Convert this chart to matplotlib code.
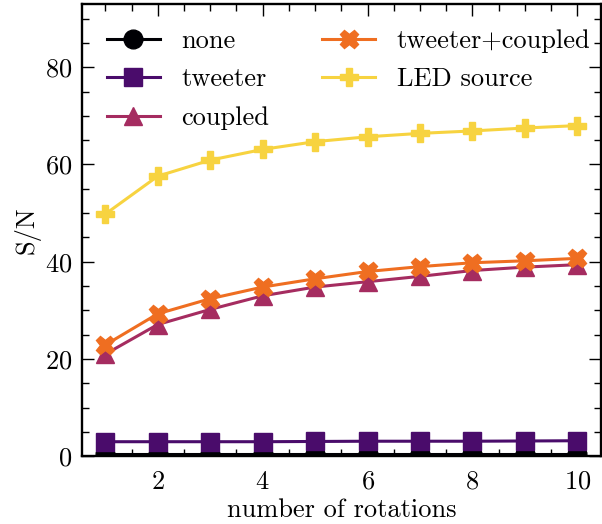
import numpy as np
import matplotlib
matplotlib.use("Agg")
import matplotlib.pyplot as plt
from matplotlib.ticker import MultipleLocator

plt.rcParams["font.family"] = ["cmr10", "DejaVu Serif"]
plt.rcParams["mathtext.fontset"] = "cm"
plt.rcParams["axes.formatter.use_mathtext"] = True
plt.rcParams["font.size"] = 19

rotations = np.arange(1, 11)
none = [0.5, 0.5, 0.5, 0.5, 0.5, 0.5, 0.5, 0.5, 0.5, 0.5]
tweeter = [3.0, 3.0, 3.0, 3.0, 3.05, 3.1, 3.1, 3.1, 3.15, 3.2]
coupled = [21.0, 27.1, 30.2, 33.0, 34.8, 35.9, 37.0, 38.2, 38.9, 39.4]
tweeter_coupled = [22.9, 29.3, 32.4, 34.8, 36.5, 38.0, 39.0, 39.8, 40.2, 40.7]
led_source = [49.8, 57.6, 60.9, 63.1, 64.7, 65.7, 66.4, 66.9, 67.5, 68.0]

labels = ["none", "tweeter", "coupled", "tweeter+coupled", "LED source"]
colors = ["#000004", "#4a0c6b", "#a52c60", "#ef6e21", "#f7d340"]
markers = ["o", "s", "^", "X", "P"]
series = [none, tweeter, coupled, tweeter_coupled, led_source]

fig = plt.figure(figsize=(6.02, 5.24), dpi=100)
ax = fig.add_axes([81.7 / 602, (524 - 456.3) / 524, (601 - 81.7) / 602, (456.3 - 4) / 524])

for y, lab, c, m in zip(series, labels, colors, markers):
    ax.plot(rotations, y, color=c, marker=m, markersize=13.5, linewidth=2.2, label=lab)

ax.set_xlim(0.55, 10.45)
ax.set_ylim(0, 93)
ax.xaxis.set_major_locator(MultipleLocator(2))
ax.xaxis.set_minor_locator(MultipleLocator(0.5))
ax.yaxis.set_major_locator(MultipleLocator(20))
ax.yaxis.set_minor_locator(MultipleLocator(5))
ax.tick_params(which="both", direction="in", top=True, right=True, width=1.0)
ax.tick_params(which="major", length=8.5, pad=7)
ax.tick_params(axis="x", which="major", pad=10)
ax.tick_params(which="minor", length=4.8)
for s in ax.spines.values():
    s.set_linewidth(1.7)

ax.set_xlabel("number of rotations", labelpad=3)
ax.set_ylabel("S/N", labelpad=3)

ax.legend(loc="upper left", ncol=2, frameon=False, handlelength=2.0,
          handletextpad=0.83, columnspacing=2.0, labelspacing=0.56,
          borderaxespad=0.55)

fig.savefig("out.png", dpi=100)
